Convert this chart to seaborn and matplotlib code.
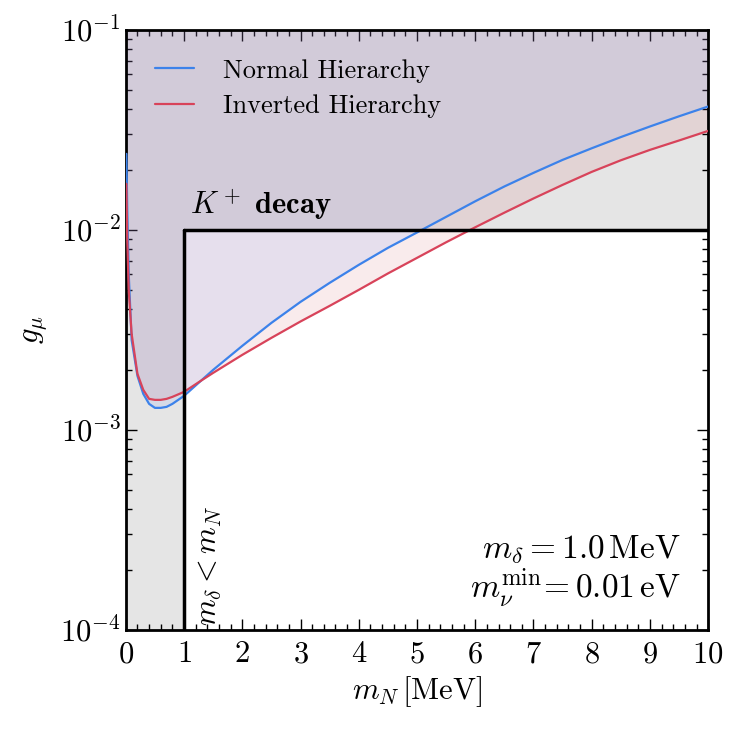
import numpy as np
import pandas as pd
import matplotlib
matplotlib.use("Agg")
import matplotlib.pyplot as plt
import seaborn as sns

# values (x in MeV, log10 of g_mu)
m_N = [0.01, 0.025, 0.05, 0.1, 0.2, 0.3, 0.4, 0.5, 0.6, 0.7, 0.8, 1.0, 1.25, 1.5,
       2.0, 2.5, 3.0, 3.5, 4.0, 4.5, 5.0, 5.5, 6.0, 6.5, 7.0, 7.5, 8.0, 8.5, 9.0, 9.5, 10.0]
log_g_normal = [-1.62, -1.90, -2.22, -2.55, -2.73, -2.82, -2.87, -2.89, -2.89, -2.885, -2.87,
                -2.83, -2.765, -2.70, -2.58, -2.465, -2.36, -2.265, -2.175, -2.09, -2.013,
                -1.935, -1.857, -1.783, -1.715, -1.65, -1.592, -1.536, -1.483, -1.432, -1.383]
log_g_inverted = [-1.77, -2.05, -2.30, -2.52, -2.72, -2.80, -2.845, -2.85, -2.85, -2.845, -2.835,
                  -2.81, -2.762, -2.715, -2.625, -2.54, -2.458, -2.38, -2.30, -2.218, -2.14,
                  -2.062, -1.987, -1.914, -1.843, -1.775, -1.71, -1.652, -1.60, -1.553, -1.505]
labels = ["Normal Hierarchy", "Inverted Hierarchy"]
kaon_bound = 1e-2
m_delta = 1.0

x = np.array(m_N)
g_nh = 10 ** np.array(log_g_normal)
g_ih = 10 ** np.array(log_g_inverted)

df = pd.DataFrame({
    "m_N": np.concatenate([x, x]),
    "g": np.concatenate([g_nh, g_ih]),
    "hierarchy": [labels[0]] * len(x) + [labels[1]] * len(x),
})

sns.set_style("ticks", {"axes.edgecolor": "black", "xtick.color": "black", "ytick.color": "black",
                        "text.color": "black", "axes.labelcolor": "black"})
plt.rcParams["font.family"] = "cmr10"
plt.rcParams["mathtext.fontset"] = "cm"
plt.rcParams["axes.formatter.use_mathtext"] = True
plt.rcParams["axes.unicode_minus"] = False

fig = plt.figure(figsize=(7.4, 7.29), dpi=100)
ax = fig.add_axes([0.170, 0.136, 0.787, 0.823])

ymin, ymax = 1e-4, 1e-1
grey = "#e5e5e5"
# excluded regions
ax.fill_between([0, m_delta], ymin, ymax, color=grey, lw=0, zorder=0)
ax.fill_between([m_delta, 10], kaon_bound, ymax, color=grey, lw=0, zorder=0)
# regions above the curves
ax.fill_between(x, g_ih, ymax, color="#c83c46", alpha=0.1, lw=0, zorder=1)
ax.fill_between(x, g_nh, ymax, color="#7a9ef9", alpha=0.15, lw=0, zorder=1)

sns.lineplot(data=df, x="m_N", y="g", hue="hierarchy", palette=["#3c82ea", "#d8435a"],
             lw=1.6, ax=ax, zorder=3)

ax.plot([m_delta, m_delta], [ymin, kaon_bound], color="black", lw=2.5, zorder=4)
ax.plot([m_delta, 10], [kaon_bound, kaon_bound], color="black", lw=2.5, zorder=4)

ax.set_yscale("log")
ax.set_xlim(0, 10)
ax.set_ylim(ymin, ymax)
ax.set_xticks(range(0, 11))
ax.xaxis.set_minor_locator(matplotlib.ticker.MultipleLocator(0.2))
ax.tick_params(which="both", direction="in", top=True, right=True, labelsize=22)
ax.tick_params(which="major", length=8, width=1)
ax.tick_params(which="minor", length=4, width=1)
ax.tick_params(axis="x", pad=8)
for s in ax.spines.values():
    s.set_linewidth(2)

ax.set_xlabel(r"$m_N\,[\mathrm{MeV}]$", fontsize=22)
ax.set_ylabel(r"$g_\mu$", fontsize=22, labelpad=8)

ax.text(1.1, 1.1e-2, r"$K^+\ \mathbf{decay}$", fontsize=22, va="bottom", ha="left")
ax.text(1.45, 1.05e-4, r"$m_\delta < m_N$", fontsize=22, rotation=90, va="bottom", ha="center")
ax.text(9.52, 1.25e-4, "$m_\\delta = 1.0\\,\\mathrm{MeV}$\n$m_\\nu^{\\rm min}\\!= 0.01\\,\\mathrm{eV}$",
        fontsize=24, ha="right", va="bottom", linespacing=1.05)

leg = ax.legend(loc="upper left", frameon=False, fontsize=19, handlelength=1.5,
                handletextpad=1.1, borderaxespad=0.7, labelspacing=0.45)

fig.savefig("out.png", dpi=100)
